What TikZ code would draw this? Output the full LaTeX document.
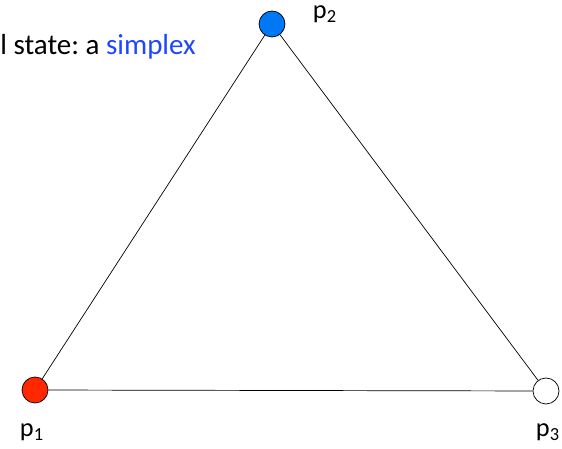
\documentclass[tikz,border=0pt]{standalone}
\usepackage{fontspec}
\setmainfont{Carlito}
\usepackage{xcolor}
\usepackage{tikz}

\definecolor{vblue}{RGB}{0,120,245}
\definecolor{vred}{RGB}{255,40,0}
\definecolor{tblue}{RGB}{30,70,255}

\begin{document}
\frenchspacing
\begin{tikzpicture}[
        x=0.02cm, y=-0.02cm,
        vertex/.style={
            circle, draw, thin, inner sep=0pt, minimum size=0.52cm
        },
        lbl/.style={inner sep=0pt, font=\fontsize{15}{17}\selectfont},
        edge/.style={thin, black}
    ]
        \useasboundingbox (0,0) rectangle (562,449);

        % Title (cut off at the left)
        \node[inner sep=0pt, anchor=west, font=\fontsize{16.5}{19}\selectfont] (title) at (0,47)
            {l state: a \textcolor{tblue}{simplex}};

        % Vertices
        \node[vertex, fill=vred] (p1) at (35,390) {};
        \node[vertex, fill=vblue] (p2) at (272,24) {};
        \node[vertex, fill=white] (p3) at (546,391) {};

        % Labels
        \node[lbl] (l1) at (32,432) {p\textsubscript{1}};
        \node[lbl] (l2) at (325,14) {p\textsubscript{2}};
        \node[lbl] (l3) at (548,432) {p\textsubscript{3}};

        % Edges
        \draw[edge] (p1) -- (p2);
        \draw[edge] (p2) -- (p3);
        \draw[edge] (p1) -- (p3);

    \end{tikzpicture}
\end{document}
